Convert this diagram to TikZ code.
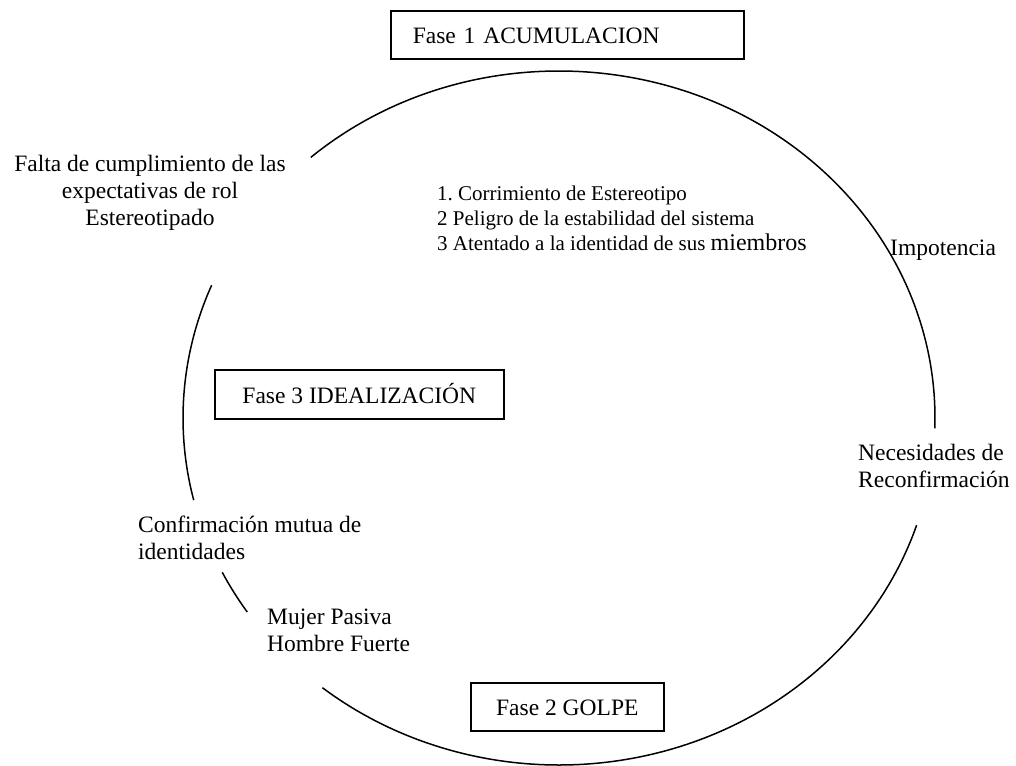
\documentclass[tikz,border=0pt]{standalone}
\usepackage{fontspec}
\setmainfont{Liberation Serif}
\tikzset{
  fasebox/.style={draw, line width=1.6pt, minimum height=48pt, inner ysep=0pt,
    text height=18pt, text depth=0pt, font=\fontsize{23.5}{27}\selectfont},
  nota/.style={inner sep=0pt, font=\fontsize{23.5}{27}\selectfont},
  ciclo/.style={line width=1.5pt}
}
\begin{document}
\begin{tikzpicture}[x=1pt,y=1pt]
  \useasboundingbox (0,0) rectangle (1016,-765);
  % Fases
  \node[fasebox,text width=309pt,align=left,inner xsep=22pt,anchor=north west] (fase1) at (390,-10) {Fase 1 ACUMULACION};
  \node[fasebox,minimum width=289pt,minimum height=49pt,anchor=north west] (fase3) at (214,-369) {Fase 3 IDEALIZACIÓN};
  \node[fasebox,minimum width=193pt,anchor=north west] (fase2) at (470,-682) {Fase 2 GOLPE};
  % Textos del ciclo (base = ultima linea)
  \node[nota,align=center,anchor=base] (falta) at (150,-225) {Falta de cumplimiento de las\\expectativas de rol\\Estereotipado};
  \node[inner sep=0pt,align=left,anchor=base west,font=\fontsize{21}{25}\selectfont] (lista) at (437,-250)
    {1.\ Corrimiento de Estereotipo\\2 Peligro de la estabilidad del sistema\\3 Atentado a la identidad de sus {\fontsize{24}{25}\selectfont miembros}};
  \node[nota,anchor=base west] (impotencia) at (890,-255) {Impotencia};
  \node[nota,align=left,anchor=base west] (necesidades) at (858,-487) {Necesidades de\\Reconfirmación};
  \node[nota,align=left,anchor=base west] (confirmacion) at (138,-559) {Confirmación mutua de\\identidades};
  \node[nota,align=left,anchor=base west] (mujer) at (267,-651) {Mujer Pasiva\\Hombre Fuerte};
  % Ciclo (elipse cortada)
  \coordinate (c) at (559,-418);
  \draw[ciclo] ([shift={(c)}]131.3:376 and 347) arc[start angle=131.3,end angle=-1.7,x radius=376,y radius=347];
  \draw[ciclo] ([shift={(c)}]-18:376 and 347) arc[start angle=-18,end angle=-129,x radius=376,y radius=347];
  \draw[ciclo] ([shift={(c)}]-146:376 and 347) arc[start angle=-146,end angle=-153.6,x radius=376,y radius=347];
  \draw[ciclo] ([shift={(c)}]193.7:376 and 347) arc[start angle=193.7,end angle=157.5,x radius=376,y radius=347];
\end{tikzpicture}
\end{document}
